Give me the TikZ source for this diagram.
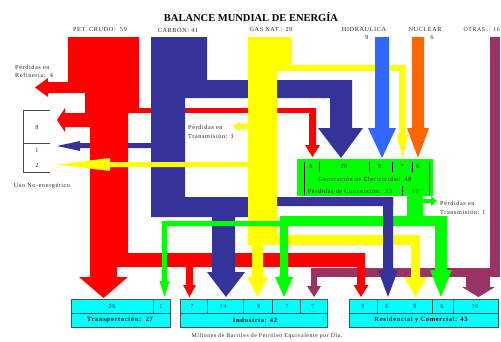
\documentclass[tikz,border=0pt]{standalone}
\usepackage{fontspec}
\setmainfont{Liberation Serif}
\newfontfamily\trk[LetterSpace=10]{Liberation Serif}
\definecolor{cred}{RGB}{255,0,0}
\definecolor{cnavy}{RGB}{51,51,153}
\definecolor{cyel}{RGB}{255,255,0}
\definecolor{cgreen}{RGB}{0,255,0}
\definecolor{chydro}{RGB}{51,102,255}
\definecolor{cnuc}{RGB}{255,102,0}
\definecolor{cpurple}{RGB}{153,51,102}
\definecolor{ccyan}{RGB}{0,255,255}
\definecolor{cline}{RGB}{60,90,90}
\tikzset{
  lbl/.style={font=\trk\fontsize{6.2}{7}\selectfont, inner sep=0pt, text=black!85},
  blbl/.style={font=\trk\bfseries\fontsize{6.5}{7.5}\selectfont, inner sep=0pt},
  sep/.style={draw=black, line width=0.6pt},
  cellbox/.style={fill=ccyan, draw=cline, line width=0.5pt},
  uline/.style={draw=black!70, line width=0.5pt}
}
\begin{document}
\begin{tikzpicture}[x=1pt,y=-1pt]
\useasboundingbox (0,0) rectangle (501,341);
\fill[white] (0,0) rectangle (501,341);

% ---------- OTRAS (purple) ----------
\fill[cpurple] (490,37) rectangle (500,277);
\fill[cpurple] (311,268) rectangle (500,277);
\fill[cpurple] (311,268) -- (317,268) -- (317,286) -- (321,286) -- (314,297) -- (307,286) -- (311,286) -- cycle;
\fill[cpurple] (466,268) rectangle (490,287);
\fill[cpurple] (462,287) -- (495,287) -- (478.5,297) -- cycle;

% ---------- carbon to non-energy (under red) ----------
\fill[cnavy] (151,143) -- (80,143) -- (80,141) -- (57,146) -- (80,151) -- (80,148) -- (151,148) -- cycle;

% ---------- PET. CRUDO (red) ----------
\fill[cred] (68,37) -- (139,37) -- (139,108) -- (316,108) -- (316,145) -- (320,145) -- (312.5,157) -- (305,145) -- (309,145) -- (309,113)
 -- (128,113) -- (128,253) -- (365,253) -- (365,285) -- (368.5,285) -- (361,297) -- (353.5,285) -- (357,285) -- (357,267)
 -- (193,267) -- (193,285) -- (196,285) -- (189.5,297) -- (183,285) -- (186,285) -- (186,267)
 -- (117,267) -- (117,277) -- (128,277) -- (103.5,298) -- (79,277) -- (90,277)
 -- (90,127) -- (65,127) -- (65,132) -- (57,120) -- (65,108) -- (65,113) -- (85,113)
 -- (85,93) -- (48,93) -- (48,97) -- (35,87.5) -- (48,78) -- (48,82) -- (68,82) -- cycle;

% ---------- CARBON (navy) ----------
\fill[cnavy] (151,37) -- (207,37) -- (207,80) -- (352,80) -- (352,128) -- (363,128) -- (341,158) -- (318,128) -- (330,128) -- (330,98)
 -- (185,98) -- (185,197) -- (393,197) -- (393,206) -- (253,206) -- (253,217) -- (235,217) -- (235,272) -- (245,272) -- (226,297)
 -- (207,272) -- (212,272) -- (212,217) -- (151,217) -- cycle;

% ---------- GAS (yellow) ----------
\fill[cyel] (248,37) -- (292,37) -- (292,65) -- (406,65) -- (406,135) -- (408.5,135) -- (402.5,157) -- (396.5,135) -- (399,135) -- (399,71)
 -- (277,71) -- (277,235) -- (420,235) -- (420,277) -- (427,277) -- (415.5,297) -- (404,277) -- (411,277) -- (411,245)
 -- (263,245) -- (263,277) -- (268,277) -- (257.5,297) -- (247,277) -- (252,277) -- (252,245) -- (248,245)
 -- (248,167) -- (110,167) -- (110,171) -- (57,164.5) -- (110,158) -- (110,162) -- (248,162)
 -- (248,129) -- (240,129) -- (240,131.5) -- (233,126.5) -- (240,121.5) -- (240,124) -- (248,124) -- cycle;

% ---------- Electricity distribution (green) ----------
\fill[cgreen] (407,195) -- (423,195) -- (423,216) -- (447,216) -- (447,270) -- (452,270) -- (441,297) -- (430,270) -- (435,270)
 -- (435,226) -- (288,226) -- (288,277) -- (293,277) -- (284,297) -- (275,277) -- (280,277)
 -- (280,226) -- (167,226) -- (167,281) -- (169.5,281) -- (164.5,297) -- (159.5,281) -- (162,281) -- (162,221)
 -- (280,221) -- (280,216) -- (407,216) -- cycle;
\fill[cgreen] (423,199) -- (431,199) -- (431,196) -- (437,201) -- (431,206) -- (431,203) -- (423,203) -- cycle;

% carbon to residential (on top)
\fill[cnavy] (383,197) -- (393,197) -- (393,270) -- (398,270) -- (388,297) -- (378,270) -- (383,270) -- cycle;

% ---------- HIDRAULICA / NUCLEAR ----------
\fill[chydro] (375,37) -- (389,37) -- (389,128) -- (396,128) -- (382,158) -- (368,128) -- (375,128) -- cycle;
\fill[cnuc] (412,37) -- (424,37) -- (424,128) -- (429,128) -- (418,158) -- (407,128) -- (412,128) -- cycle;

% ---------- Generation box ----------
\fill[cgreen] (297,159) rectangle (433,196);
\draw[sep] (304,162) -- (304,195);
\draw[sep] (429,162) -- (429,195);
\foreach \xx in {319,369,392,412} \draw[sep] (\xx,162) -- (\xx,172);
\draw[sep] (402,186) -- (402,195);
\node[lbl] (g1) at (311,166) {6};
\node[lbl] (g2) at (344,166) {20};
\node[lbl] (g3) at (380,166) {9};
\node[lbl] (g4) at (402,166) {7};
\node[lbl] (g5) at (418,166) {6};
\node[lbl] (gen) at (365,179) {Generación de Electricidad\ \ 48};
\node[lbl] (conv) at (350,191) {Pérdidas de Conversión:\ \ 33};
\node[lbl] (g15) at (415,191) {15};

% ---------- Title and sources ----------
\node[font=\bfseries\fontsize{10.5}{12}\selectfont, inner sep=0pt] (title) at (251,17) {BALANCE MUNDIAL DE ENERGÍA};
\node[lbl] (s1) at (100,29.5) {PET. CRUDO:\ \ 59};
\node[lbl] (s2) at (178,29.5) {CARBÓN: 41};
\node[lbl] (s3) at (271,29.5) {GAS NAT.: 29};
\node[lbl] (s4) at (364,29.5) {HIDRAULICA};
\node[lbl] (s4n) at (367,37) {9};
\node[lbl] (s5) at (425,29.5) {NUCLEAR};
\node[lbl] (s5n) at (432,37) {6};
\node[lbl, anchor=east, font=\trk\fontsize{5.8}{7}\selectfont] (s6) at (500,29.5) {OTRAS .: 16};

% ---------- Left side ----------
\node[lbl, anchor=west] (ref1) at (15,67) {Pérdidas en};
\node[lbl, anchor=west] (ref2) at (15,75) {Refinería:\ \ 4};
\draw[uline] (50,110) -- (23,110) -- (23,172) -- (50,172);
\draw[uline] (23,143) -- (50,143);
\node[lbl] (u8) at (37,127) {8};
\node[lbl] (u1) at (37,150) {1};
\node[lbl] (u2) at (37,165) {2};
\node[lbl] (uso) at (42,186) {Uso No-energético};
\node[lbl, anchor=west] (tr1) at (188,127) {Pérdidas en};
\node[lbl, anchor=west] (tr2) at (188,136) {Transmisión: 3};
\node[lbl, anchor=west] (tr3) at (440,203) {Pérdidas en};
\node[lbl, anchor=west] (tr4) at (440,212) {Transmisión: 1};

% ---------- Bottom boxes ----------
\draw[cellbox] (71,299) rectangle (170,327);
\draw[cline, line width=0.6pt] (71,313) -- (170,313) (153,299) -- (153,313);
\node[lbl] (t26) at (112,306) {26};
\node[lbl] (t1) at (161,306) {1};
\node[blbl] (tl) at (120,320) {Transportación:\ \ 27};

\draw[cellbox] (180,299) rectangle (327,327);
\draw[cline, line width=0.6pt] (180,313) -- (327,313) (207,299) -- (207,313) (243,299) -- (243,313) (272,299) -- (272,313) (300,299) -- (300,313);
\node[lbl] (i7) at (192,306) {7};
\node[lbl] (i14) at (223,306) {14};
\node[lbl] (i8) at (259,306) {8};
\node[lbl] (i7b) at (287,306) {7};
\node[lbl] (i7c) at (313,306) {7};
\node[blbl] (il) at (255,320) {Industria: 42};

\draw[cellbox] (349,299) rectangle (498,327);
\draw[cline, line width=0.6pt] (349,313) -- (498,313) (377,299) -- (377,313) (432,299) -- (432,313) (453,299) -- (453,313);
\node[lbl] (r8) at (363,306) {8};
\node[lbl] (r6) at (387,306) {6};
\node[lbl] (r8b) at (415,306) {8};
\node[lbl] (r6b) at (442,306) {6};
\node[lbl] (r16) at (475,306) {16};
\node[blbl] (rl) at (421,320) {Residencial y Comercial: 43};

\node[lbl, font=\trk\fontsize{5.8}{6.5}\selectfont] (foot) at (267,336) {Millones de Barriles de Petróleo Equivalente por Día.};
\end{tikzpicture}
\end{document}
